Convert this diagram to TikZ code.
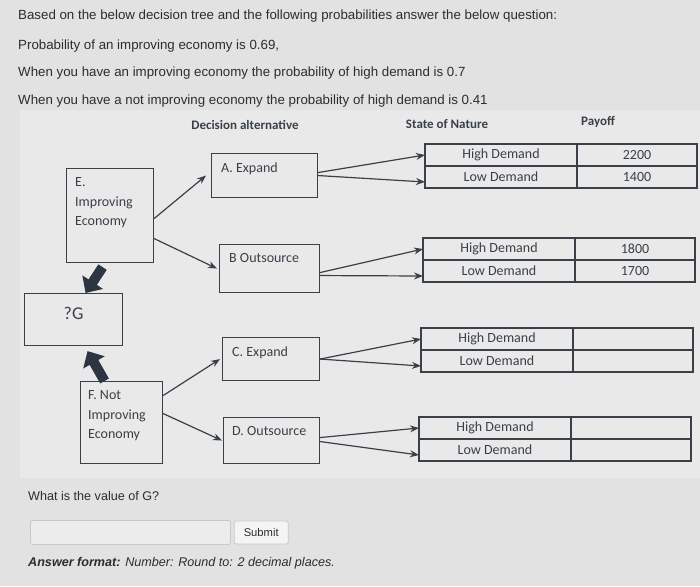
\documentclass[tikz,border=0pt]{standalone}
\usepackage{fontspec}
\setmainfont{Liberation Sans}
\newfontfamily\calib{Carlito}
\usetikzlibrary{positioning}
\usetikzlibrary{arrows.meta,calc}

\definecolor{bgcol}{RGB}{226,226,226}
\definecolor{panelcol}{RGB}{233,233,233}
\definecolor{inkcol}{RGB}{58,64,72}
\definecolor{txtcol}{RGB}{45,45,45}
\definecolor{blockcol}{RGB}{44,54,66}
\definecolor{fieldcol}{RGB}{236,236,236}
\definecolor{fieldline}{RGB}{200,200,200}

\tikzset{
    box/.style={draw=inkcol, line width=1.1pt, anchor=north west, inner sep=0pt},
    boxtext/.style={anchor=north west, inner sep=0pt, xshift=9pt, yshift=-9.5pt,
        align=left, text=inkcol, font=\calib\fontsize{14}{19.5}\selectfont},
    cell/.style={draw=inkcol, line width=1.1pt, inner sep=0pt, outer sep=0pt,
        minimum height=22pt, anchor=north west, text=inkcol,
        font=\calib\fontsize{14}{16}\selectfont},
    statecell/.style={cell, minimum width=152pt},
    paycell/.style={cell, minimum width=120pt},
    header/.style={text=inkcol, font=\calib\bfseries\fontsize{13}{15}\selectfont},
    conn/.style={draw=inkcol, line width=1.2pt, -{Stealth[length=9pt,width=7pt]}},
    blockarrow/.style={draw=blockcol, line width=10pt, -{Triangle[width=24pt,length=13pt]}},
    question/.style={anchor=west, inner sep=0pt, text=txtcol,
        font=\fontsize{13.3}{16}\selectfont}
}

\begin{document}
\begin{tikzpicture}[x=1pt,y=-1pt]
% background
\fill[bgcol] (0,0) rectangle (700,586);
\fill[panelcol] (20,110) rectangle (700,478);

% question text
\node[question] (line1) at (18,16) {Based on the below decision tree and the following probabilities answer the below question:};
\node[question] (line2) at (18,46) {Probability of an improving economy is 0.69,};
\node[question] (line3) at (18,73) {When you have an improving economy the probability of high demand is 0.7};
\node[question] (line4) at (18,101) {When you have a not improving economy the probability of high demand is 0.41};

% column headers
\node[header] (hdecision) at (245,125) {Decision alternative};
\node[header] (hnature) at (447,124) {State of Nature};
\node[header] (hpayoff) at (598,122) {Payoff};

% economy boxes
\node[box,
    minimum width=87pt,
    minimum height=94pt,
    label={[boxtext]north west:{E.\\Improving\\Economy}}
] (E) at (66,168) {};

\node[box,
    minimum width=98pt,
    minimum height=52pt,
    label={[anchor=north, inner sep=0pt, yshift=-14pt, text=inkcol,
        font=\calib\fontsize{18}{20}\selectfont]north:?G}
] (G) at (24,293) {};

\node[box,
    minimum width=82pt,
    minimum height=82pt,
    label={[boxtext, xshift=-1pt]north west:{F. Not\\Improving\\Economy}}
] (F) at (80,381) {};

% decision boxes
\node[box,
    minimum width=106pt,
    minimum height=44pt,
    label={[boxtext, xshift=1pt]north west:A. Expand}
] (A) at (211,153) {};

\node[box,
    minimum width=100pt,
    minimum height=48pt,
    label={[boxtext, xshift=1pt]north west:B Outsource}
] (B) at (219,244) {};

\node[box,
    minimum width=97pt,
    minimum height=43pt,
    label={[boxtext, xshift=1pt]north west:C. Expand}
] (C) at (222,337) {};

\node[box,
    minimum width=96pt,
    minimum height=46pt,
    label={[boxtext]north west:D. Outsource}
] (D) at (223,417) {};

% state of nature / payoff tables
\node[statecell] (hdA) at (425,144) {High Demand};
\node[statecell, below=0pt of hdA] (ldA) {Low Demand};
\node[paycell, right=0pt of hdA] (phA) {2200};
\node[paycell, right=0pt of ldA] (plA) {1400};

\node[statecell] (hdB) at (423,238) {High Demand};
\node[statecell, below=0pt of hdB] (ldB) {Low Demand};
\node[paycell, right=0pt of hdB] (phB) {1800};
\node[paycell, right=0pt of ldB] (plB) {1700};

\node[statecell] (hdC) at (421,328) {High Demand};
\node[statecell, below=0pt of hdC] (ldC) {Low Demand};
\node[paycell, right=0pt of hdC] (phC) {};
\node[paycell, right=0pt of ldC] (plC) {};

\node[statecell] (hdD) at (419,417) {High Demand};
\node[statecell, below=0pt of hdD] (ldD) {Low Demand};
\node[paycell, right=0pt of hdD] (phD) {};
\node[paycell, right=0pt of ldD] (plD) {};

% economy to decision
\draw[conn] ([yshift=-3pt]E.east) -- ([xshift=-5pt]A.west);
\draw[conn] ([yshift=-23pt]E.east) -- ([xshift=-2pt]B.west);
\draw[conn] ([yshift=27pt]F.east) -- ([xshift=-2pt]C.west);
\draw[conn] ([yshift=9pt]F.east) -- ([xshift=-1pt]D.west);

% decision to state of nature
\draw[conn] ([yshift=3pt]A.east) -- (hdA.west);
\draw[conn] (A.east) -- ([yshift=-5pt]ldA.west);
\draw[conn] ([yshift=-4pt]B.east) -- (hdB.west);
\draw[conn] ([yshift=-7pt]B.east) -- ([yshift=-5pt]ldB.west);
\draw[conn] (C.east) -- (hdC.west);
\draw[conn] (C.east) -- ([yshift=-5pt]ldC.west);
\draw[conn] ([yshift=3pt]D.east) -- (hdD.west);
\draw[conn] ([yshift=-1pt]D.east) -- ([yshift=-5pt]ldD.west);

% roll back arrows
\draw[blockarrow] ([xshift=-7.5pt,yshift=-4pt]E.south) -- ([xshift=12pt]G.north);
\draw[blockarrow] ([xshift=-17pt]F.north) -- ([xshift=14pt,yshift=-5pt]G.south);

% answer area
\node[question, font=\fontsize{12.6}{15}\selectfont] (ask) at (28,496) {What is the value of G?};
\node[draw=fieldline, fill=fieldcol, rounded corners=2pt, line width=0.8pt,
    minimum width=200pt, minimum height=24pt, anchor=north west
] (answer) at (30,520) {};
\node[draw=fieldline, fill=fieldcol!60!white, rounded corners=2pt, line width=0.8pt,
    minimum width=54pt, minimum height=23pt, text=txtcol,
    font=\fontsize{11.2}{13}\selectfont,
    right=3pt of answer
] (submit) {Submit};
\node[question, font=\fontsize{12.6}{15}\selectfont] (format) at (28,563)
    {\textbf{\textit{Answer format:}} \textit{Number: Round to: 2 decimal places.}};
\end{tikzpicture}
\end{document}
